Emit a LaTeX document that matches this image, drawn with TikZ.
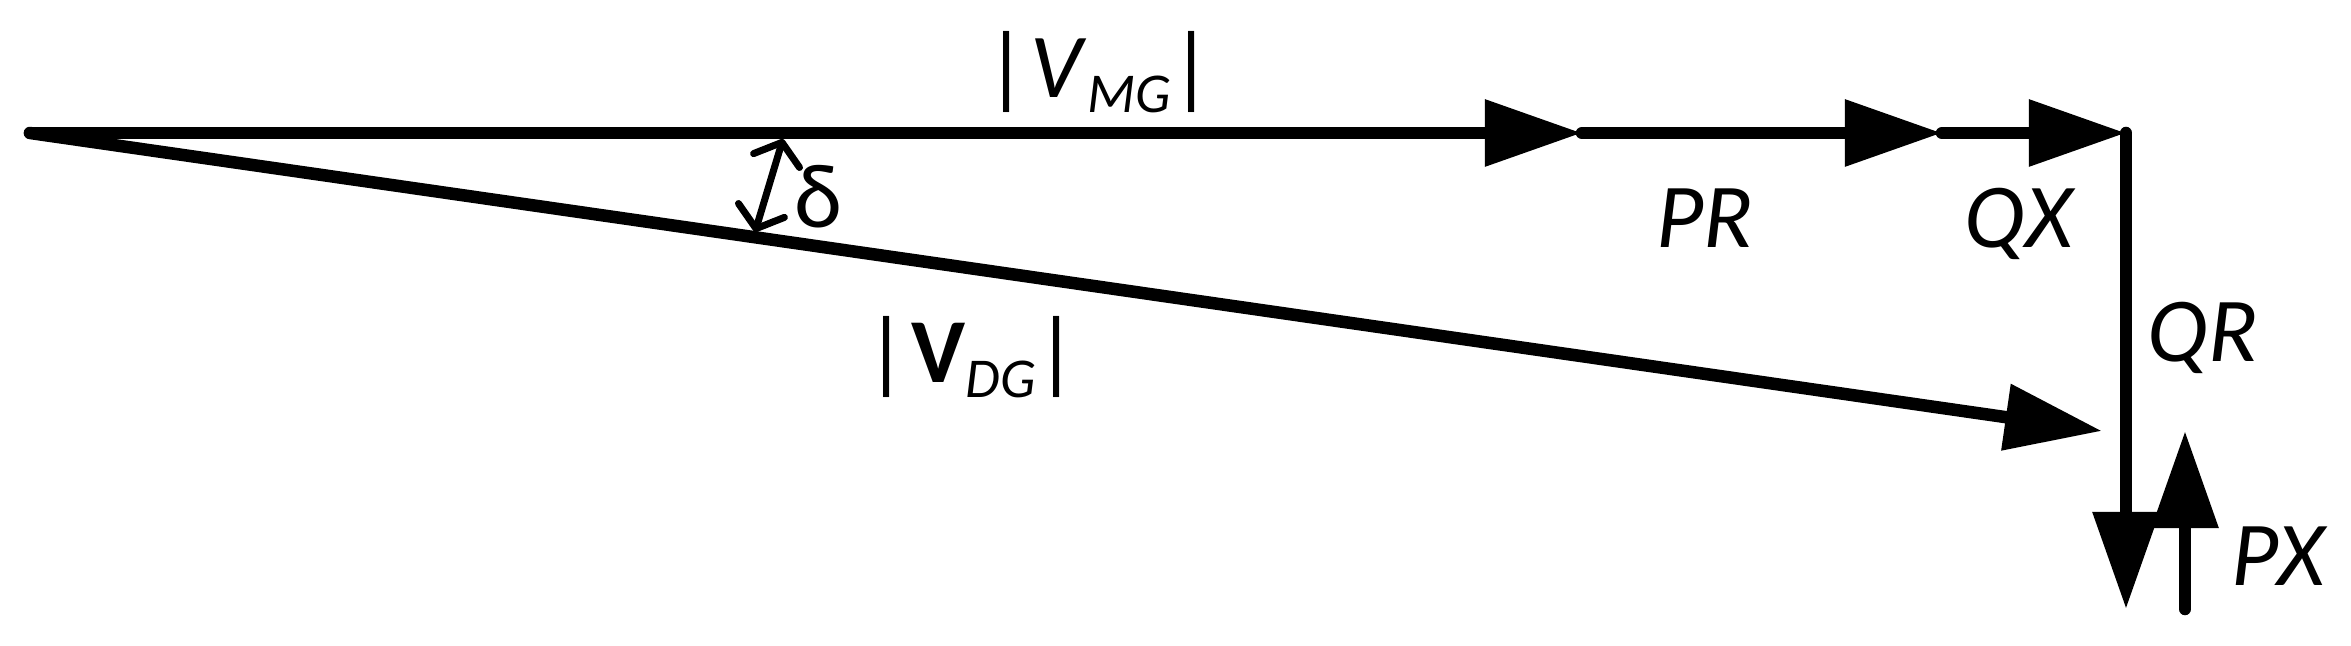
\documentclass[tikz,border=0pt]{standalone}
\usepackage{fontspec}
\setmainfont{Carlito}
\usetikzlibrary{arrows.meta}
\tikzset{
  vec/.style={line width=0.125cm, line cap=round, -{Triangle[length=0.97cm,width=0.64cm]}},
  lbl/.style={inner sep=0pt, anchor=base, font=\fontsize{26}{30}\selectfont},
  angarrow/.style={line width=0.07cm, line cap=round, {Straight Barb[length=0.19cm,width=0.48cm,round]}-{Straight Barb[length=0.19cm,width=0.48cm,round]}}
}
\newcommand{\subtxt}[1]{{\fontsize{16}{18}\selectfont\raisebox{-0.14cm}{\textit{#1}}}}
\begin{document}
\begin{tikzpicture}[x=0.01cm,y=-0.01cm]
\useasboundingbox (0,0) rectangle (2351,646);
\coordinate (O) at (30,133);
\coordinate (A) at (1582,133);
\coordinate (B) at (1942,133);
\coordinate (C) at (2126,133);
\coordinate (D) at (2126,609);
\coordinate (E) at (2185,609);
\coordinate (F) at (2185,431);
\coordinate (G) at (2102,431);
\coordinate (d1) at (755,232);
\coordinate (d2) at (783,139);
\draw[vec] (O) -- (A);
\draw[vec] (A) -- (B);
\draw[vec] (B) -- (C);
\draw[vec] (C) -- (D);
\draw[vec] (E) -- (F);
\draw[vec] (O) -- (G);
\draw[angarrow] (d1) -- (d2);
\node[lbl] (vmg) at (1099,98) {|\hspace{0.04em}\textit{V}\subtxt{MG}|};
\node[lbl] (vdg) at (972,383) {|\hspace{0.04em}\textbf{V}\subtxt{DG}|};
\node[lbl] (delta) at (818,228) {δ};
\node[lbl] (pr) at (1705,248) {\textit{PR}};
\node[lbl] (qx) at (2020,248) {\textit{QX}};
\node[lbl] (qr) at (2203,362) {\textit{QR}};
\node[lbl] (px) at (2280,585) {\textit{PX}};
\end{tikzpicture}
\end{document}
